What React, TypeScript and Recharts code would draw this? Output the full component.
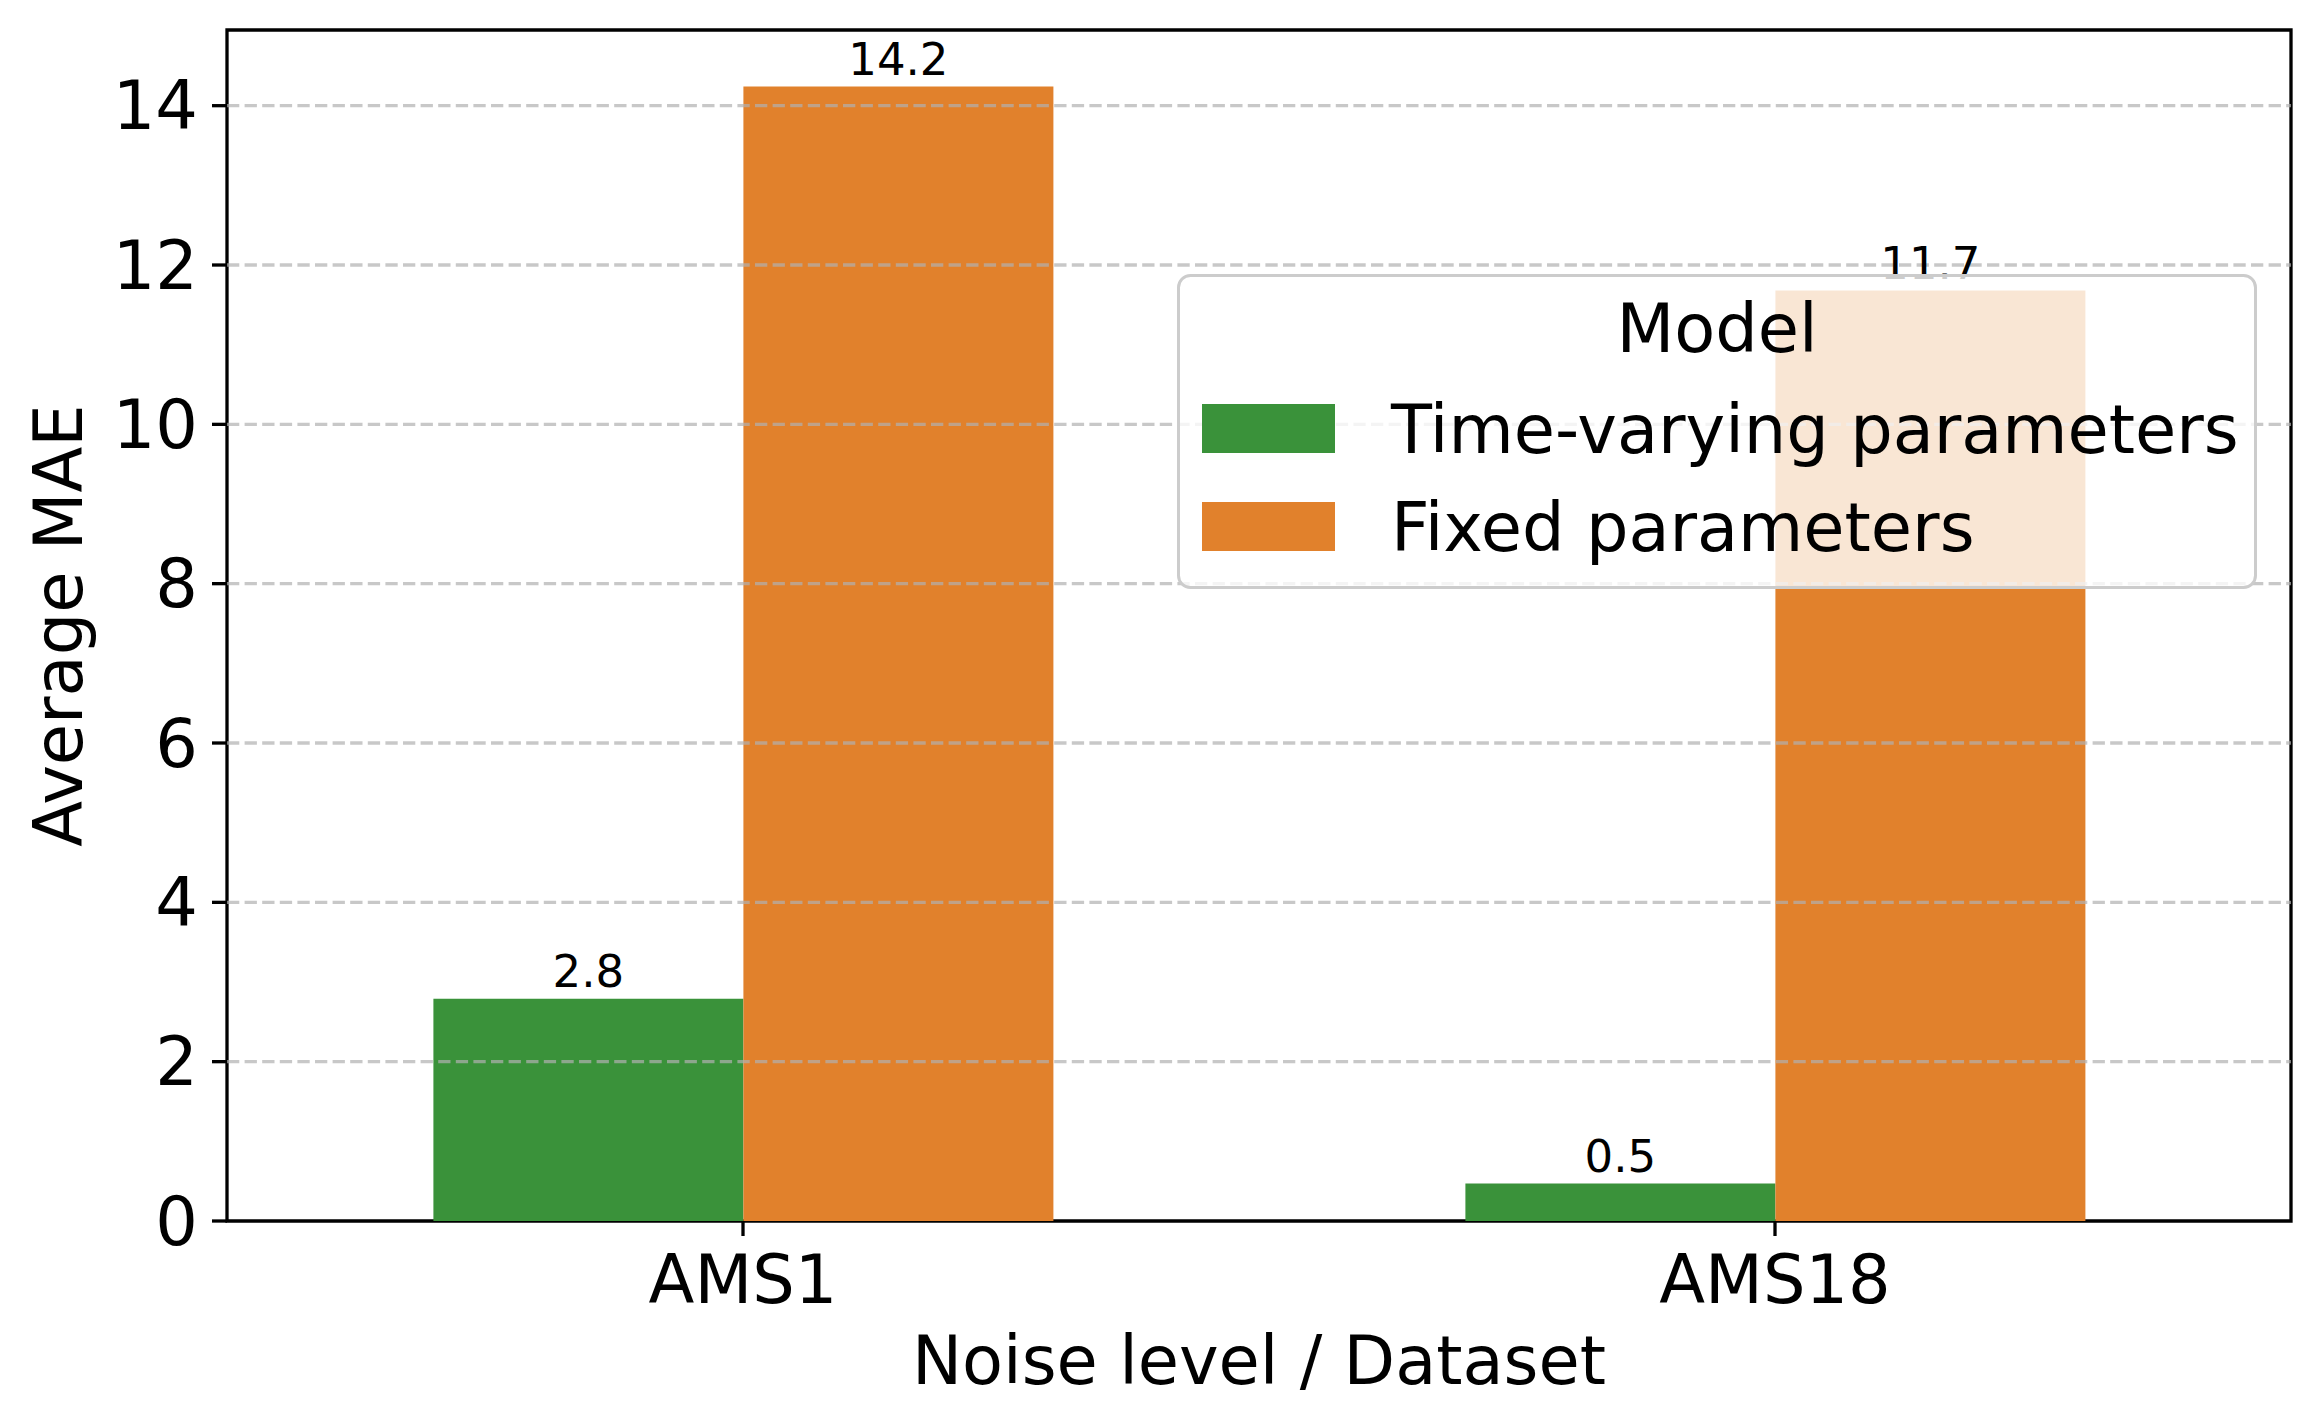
import { Bar, BarChart, LabelList, Legend, ReferenceArea, ReferenceLine, XAxis, YAxis } from "recharts";

const categories = ["AMS1", "AMS18"];
const timeVarying = [2.79, 0.47];
const fixedParams = [14.24, 11.68];
const yTicks = [0, 2, 4, 6, 8, 10, 12, 14];
const yMax = 14.95;

const seriesNames = ["Time-varying parameters", "Fixed parameters"];
const GREEN = "#3a923a";
const ORANGE = "#e1812c";
const seriesColors = [GREEN, ORANGE];
const FONT = "DejaVu Sans";

const rows = categories.map((c, i) => ({ dataset: c, timeVarying: timeVarying[i], fixedParams: fixedParams[i] }));

const fmt = (v: any) => Number(v).toFixed(1);

function YLabel(props: any) {
  const vb = props.viewBox || { x: 0, y: 30, width: 227, height: 1191 };
  const cx = vb.x + 82;
  const cy = vb.y + vb.height / 2;
  return (
    <text x={cx} y={cy} transform={`rotate(-90, ${cx}, ${cy})`} textAnchor="middle" fontSize={67} fontFamily={FONT} fill="#000">
      Average MAE
    </text>
  );
}

// legend drawn in series order (recharts payload order is not reliable here)
function LegendBox() {
  return (
    <svg width={1080} height={315} style={{ display: "block" }}>
      <rect x={1.5} y={1.5} width={1077} height={312} rx={12} fill="rgba(255,255,255,0.8)" stroke="#cccccc" strokeWidth={3} />
      <text x={540} y={78} textAnchor="middle" fontSize={67} fontFamily={FONT} fill="#000">
        Model
      </text>
      {seriesNames.map((name, i) => (
        <g key={name}>
          <rect x={25} y={130 + i * 98} width={133} height={49} fill={seriesColors[i]} />
          <text x={214} y={179 + i * 98} fontSize={67} fontFamily={FONT} fill="#000">
            {name}
          </text>
        </g>
      ))}
    </svg>
  );
}

export default function App() {
  return (
    <div style={{ position: "absolute", left: 0, top: 0, background: "#fff" }}>
      <BarChart
        width={2321}
        height={1428}
        data={rows}
        margin={{ top: 30, right: 30, left: 0, bottom: 0 }}
        barCategoryGap="20%"
        barGap={0}
      >
        <XAxis
          dataKey="dataset"
          height={207}
          axisLine={false}
          tickSize={15}
          tickMargin={19}
          tickLine={{ stroke: "#000", strokeWidth: 3.3 }}
          tick={{ fill: "#000", fontSize: 67, fontFamily: FONT }}
          label={{ value: "Noise level / Dataset", position: "insideBottom", offset: 44, fill: "#000", fontSize: 67, fontFamily: FONT }}
        />
        <YAxis
          width={227}
          domain={[0, yMax]}
          ticks={yTicks}
          allowDataOverflow
          axisLine={false}
          tickSize={15}
          tickMargin={14}
          tickLine={{ stroke: "#000", strokeWidth: 3.3 }}
          tick={{ fill: "#000", fontSize: 67, fontFamily: FONT }}
          label={<YLabel />}
        />
        <Legend
          layout="horizontal"
          verticalAlign="middle"
          align="center"
          wrapperStyle={{ left: 1177, top: 274, width: 1080, height: 315 }}
          content={<LegendBox />}
        />
        <Bar dataKey="timeVarying" name={seriesNames[0]} fill={GREEN} isAnimationActive={false}>
          <LabelList dataKey="timeVarying" position="top" offset={12} formatter={fmt} fill="#000" fontSize={45} fontFamily={FONT} />
        </Bar>
        <Bar dataKey="fixedParams" name={seriesNames[1]} fill={ORANGE} isAnimationActive={false}>
          <LabelList dataKey="fixedParams" position="top" offset={12} formatter={fmt} fill="#000" fontSize={45} fontFamily={FONT} />
        </Bar>
        {yTicks
          .filter((t) => t > 0)
          .map((t) => (
            <ReferenceLine key={t} y={t} stroke="#b0b0b0" strokeOpacity={0.7} strokeWidth={3.3} strokeDasharray="12.3 5.3" />
          ))}
        <ReferenceArea y1={0} y2={yMax} fill="none" stroke="#000" strokeWidth={3.3} ifOverflow="visible" />
      </BarChart>
    </div>
  );
}
